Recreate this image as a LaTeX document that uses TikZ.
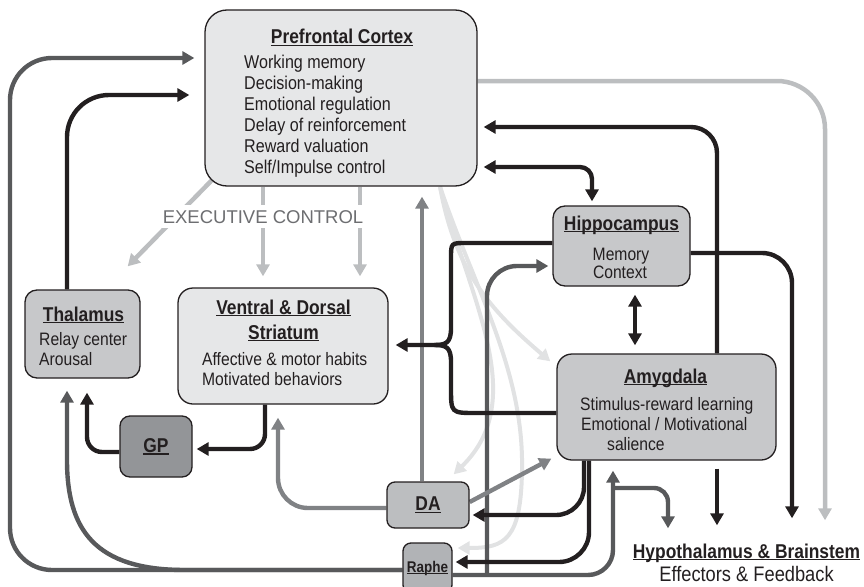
\documentclass[tikz,border=0pt]{standalone}
\usepackage{fontspec}
\setmainfont{Liberation Sans}[FakeStretch=0.87]
\newfontfamily\plainsans{Liberation Sans}
\usetikzlibrary{arrows.meta,calc}
\definecolor{cblack}{HTML}{231F20}
\definecolor{cdark}{HTML}{58595B}
\definecolor{cmid}{HTML}{808285}
\definecolor{clight}{HTML}{BCBEC0}
\definecolor{cpale}{HTML}{E1E2E3}
\definecolor{fpfc}{HTML}{E6E7E8}
\definecolor{fmid}{HTML}{C7C8CA}
\definecolor{fda}{HTML}{BCBEC0}
\definecolor{fraphe}{HTML}{B1B3B6}
\definecolor{fgp}{HTML}{939598}
\definecolor{ftext}{HTML}{6D6E71}
\newcommand\ulin[1]{\sbox0{#1}\rlap{\rule[-2.3pt]{\wd0}{1.2pt}}\usebox0}
\newcommand\ttlfont{\fontsize{20}{22}\selectfont\bfseries}
\newcommand\pfcfont{\fontsize{18.5}{21}\selectfont}
\newcommand\bodyfont{\fontsize{18}{20}\selectfont}
\pgfdeclarelayer{bg}
\pgfsetlayers{bg,main}
\tikzset{
  tip/.tip={Triangle[length=12pt,width=13pt]},
  bk/.style={draw=cblack, line width=4.4pt, -tip},
  dk/.style={draw=cdark, line width=4.4pt, -tip},
  md/.style={draw=cmid, line width=4.4pt, -tip},
  lt/.style={draw=clight, line width=4.5pt, -tip},
  pale/.style={draw=cpale, line width=4pt, -tip},
  box/.style={draw=cblack, line width=1.3pt, rounded corners=#1, inner sep=0pt},
  box/.default=12pt,
  txt/.style={inner sep=0pt, text=cblack},
}
\begin{document}
\begin{tikzpicture}[x=1pt,y=-1pt]
\useasboundingbox (0,0) rectangle (864,586);

% boxes
\node[box=22pt, fill=fpfc, minimum width=272pt, minimum height=176pt] (pfc) at (341,98) {};
\node[box=12pt, fill=fmid, minimum width=115pt, minimum height=88pt] (thal) at (82.5,334) {};
\node[box=15pt, fill=fpfc, minimum width=210pt, minimum height=116pt] (str) at (283,346) {};
\node[box=10pt, fill=fgp, minimum width=72pt, minimum height=61pt, font=\ttlfont, text=cblack] (gp) at (156,446.5) {\ulin{GP}};
\node[box=12pt, fill=fmid, minimum width=137pt, minimum height=80pt] (hip) at (621.5,246) {};
\node[box=15pt, fill=fmid, minimum width=219pt, minimum height=106pt] (amy) at (666.5,407) {};
\node[box=8pt, fill=fda, minimum width=82pt, minimum height=46pt, font=\ttlfont, text=cblack] (da) at (428,505) {\ulin{DA}};
\node[box=8pt, fill=fraphe, minimum width=49pt, minimum height=50pt, font=\fontsize{15.5}{17}\selectfont\bfseries, text=cblack] (raphe) at (427.5,568) {\ulin{Raphe}};

% texts
\node[txt, anchor=base, font=\ttlfont] (pfct) at (342,44) {\ulin{Prefrontal Cortex}};
\foreach \t [count=\i] in {Working memory,Decision-making,Emotional regulation,Delay of reinforcement,Reward valuation,Self/Impulse control}
  \node[txt, anchor=base west, font=\pfcfont] (pfc\i) at (244,{47+21*\i}) {\t};
\node[txt, anchor=base, font=\ttlfont] (thalt) at (83.5,321) {\ulin{Thalamus}};
\node[txt, anchor=base west, font=\bodyfont] (thal1) at (39,345) {Relay center};
\node[txt, anchor=base west, font=\bodyfont] (thal2) at (39,365) {Arousal};
\node[txt, anchor=base, font=\ttlfont] (strt1) at (283.5,314) {\ulin{Ventral \& Dorsal}};
\node[txt, anchor=base, font=\ttlfont] (strt2) at (283.5,339) {\ulin{Striatum}};
\node[txt, anchor=base west, font=\bodyfont] (str1) at (202,365) {Affective \& motor habits};
\node[txt, anchor=base west, font=\bodyfont] (str2) at (202,385) {Motivated behaviors};
\node[txt, anchor=base, font=\ttlfont] (hipt) at (621.5,230) {\ulin{Hippocampus}};
\node[txt, anchor=base, font=\bodyfont] (hip1) at (621,260) {Memory};
\node[txt, anchor=base, font=\bodyfont] (hip2) at (620,278) {Context};
\node[txt, anchor=base, font=\ttlfont] (amyt) at (665.5,383) {\ulin{Amygdala}};
\node[txt, anchor=base west, font=\bodyfont] (amy1) at (580,410) {Stimulus-reward learning};
\node[txt, anchor=base west, font=\bodyfont] (amy2) at (581,430) {Emotional / Motivational};
\node[txt, anchor=base west, font=\bodyfont] (amy3) at (607,450) {salience};
\node[txt, anchor=base, font=\ttlfont] (hyp) at (746.5,558) {\ulin{Hypothalamus \& Brainstem}};
\node[txt, anchor=base, font=\fontsize{21}{22}\selectfont] (hyps) at (746.5,581) {Effectors \& Feedback};
\node[anchor=base, fill=white, inner xsep=1pt, inner ysep=5pt, text=ftext, font=\plainsans\fontsize{18.5}{20}\selectfont] (exec) at (263,223) {EXECUTIVE CONTROL};

\begin{pgfonlayer}{bg}
% pale fan from PFC
\draw[pale] (pfc.south -| 440,0) .. controls (455,270) and (490,310) .. ($(amy.north west)+(-6,8)$);
\draw[pale] (pfc.south -| 440,0) .. controls (470,300) and (530,400) .. ($(da.north east)+(-16,-7)$);
\draw[pale] (pfc.south -| 440,0) .. controls (475,290) and (524,370) .. (522,470) .. controls (521,540) and (505,548) .. ($(raphe.east |- 0,548)+(5,0)$);

% executive control
\draw[lt] (pfc.south -| 263,0) -- ($(str.north -| 263,0)+(0,-11)$);
\draw[lt] (pfc.south -| 360,0) -- ($(str.north -| 360,0)+(0,-11)$);
\draw[lt] (213,179) -- ($(thal.north east)+(-13,-23)$);

% PFC -> hypothalamus
\draw[lt, rounded corners=48pt] (pfc.east |- 0,81) -- (825,81) -- ($(hyp.north -| 825,0)+(0,-23)$);

% Raphe projections
\draw[dk, rounded corners=42pt] (raphe.west |- 0,570) -- (10,570) -- (10,58) -- ($(pfc.west |- 0,58)+(-10,0)$);
\draw[dk] (raphe.west |- 0,570) -- (185,570) .. controls (95,570) and (67,530) .. (67,460) -- ($(thal.south -| 67,0)+(0,12)$);
\draw[dk, rounded corners=25pt] (raphe.east |- 0,575) -- (613,575) -- ($(amy.south -| 613,0)+(0,10)$);
\draw[dk, rounded corners=30pt] (487,575) -- (487,266) -- ($(hip.west |- 0,266)+(-4,0)$);
\draw[dk, rounded corners=14pt] (613,488) -- (668,488) -- ($(hyp.north -| 668,0)+(0,-15)$);

% DA projections
\draw[md] (da.north -| 422,0) -- ($(pfc.south -| 422,0)+(0,10)$);
\draw[md, rounded corners=30pt] (da.west |- 0,508) -- (278,508) -- ($(str.south -| 278,0)+(0,13)$);
\draw[md] ($(da.east)+(0,-3)$) -- ($(amy.south west)+(-5,-2)$);

% black connections
\draw[bk, rounded corners=28pt] (amy.south -| 584,0) -- (584,515) -- ($(da.east |- 0,515)+(3,0)$);
\draw[bk, rounded corners=30pt] (amy.south -| 589,0) -- (589,562) -- ($(raphe.east |- 0,562)+(3,0)$);
\draw[bk] (hip.west |- 0,243) -- (466,243) .. controls (451,243) .. (451,258) -- (451,328) .. controls (451,343) and (446,345) .. (434,345) -- ($(str.east |- 0,345)+(7,0)$);
\draw[bk,-] (amy.west |- 0,413) -- (476,413) .. controls (451,413) .. (451,388) -- (451,362) .. controls (451,347) and (446,345) .. (434,345);
\draw[bk, tip-tip, rounded corners=12pt] ($(pfc.east |- 0,167)+(6,0)$) -- (592,167) -- ($(hip.north -| 592,0)+(0,-4)$);
\draw[bk, rounded corners=26pt] (amy.north -| 717,0) -- (717,127) -- ($(pfc.east |- 0,127)+(6,0)$);
\draw[bk] ($(amy.south -| 717,0)+(0,8)$) -- ($(hyp.north -| 717,0)+(0,-18)$);
\draw[bk, tip-tip] ($(hip.south -| 635,0)+(0,8)$) -- ($(amy.north -| 635,0)+(0,-8)$);
\draw[bk, rounded corners=30pt] (hip.east |- 0,253) -- (792,253) -- ($(hyp.north -| 792,0)+(0,-25)$);
\draw[bk, rounded corners=42pt] (thal.north -| 67,0) -- (67,95) -- ($(pfc.west |- 0,95)+(-15,0)$);
\draw[bk, rounded corners=15pt] (str.south -| 265,0) -- (265,449) -- ($(gp.east |- 0,449)+(4,0)$);
\draw[bk, rounded corners=15pt] (gp.west |- 0,452) -- (87,452) -- ($(thal.south -| 87,0)+(0,14)$);
\end{pgfonlayer}
\end{tikzpicture}
\end{document}
